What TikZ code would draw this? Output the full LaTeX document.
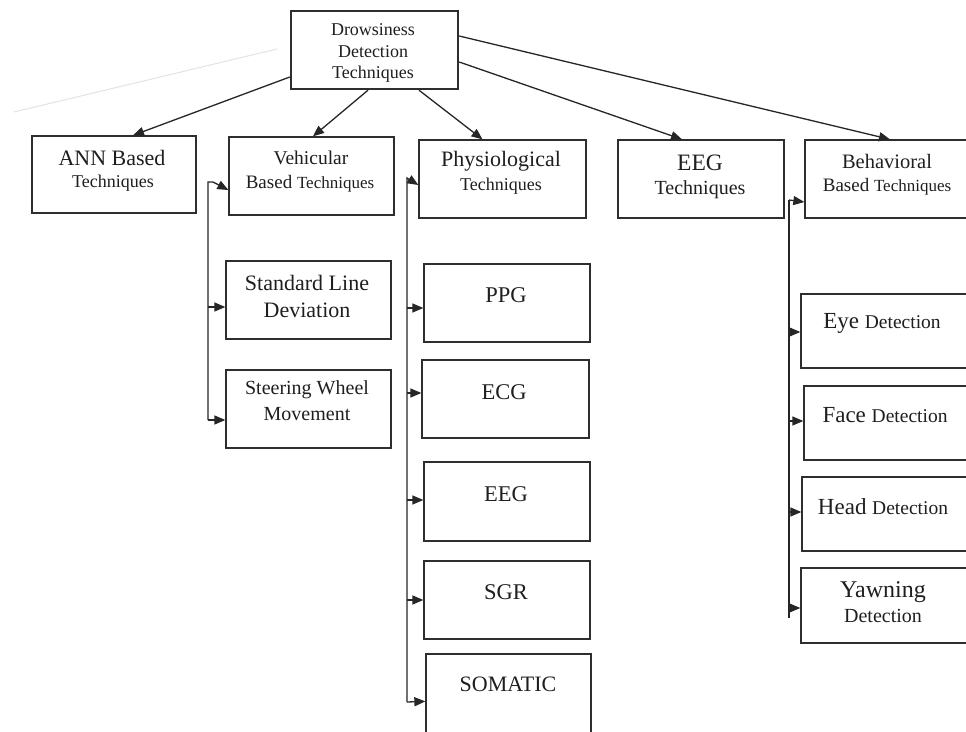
\documentclass[tikz,border=0pt]{standalone}
\usepackage{fontspec}
\setmainfont{Liberation Serif}
\usetikzlibrary{arrows.meta,calc}
\newcommand\fsz[1]{\fontsize{#1}{#1}\selectfont}
\begin{document}
\begin{tikzpicture}[x=1pt,y=-1pt,
  box/.style={draw=black!82,line width=1.3pt,inner sep=0pt},
  conn/.style={draw=black!85,line width=1.3pt},
  arr/.style={conn,-{Triangle[length=11pt,width=9pt]}},
  lbl/.style={text=black!88,inner sep=0pt,align=center}]
\useasboundingbox (0,0) rectangle (966,731);
\clip (0,0) rectangle (966,731);
\fill[white] (0,0) rectangle (966,731);
% faint artifact line
\draw[gray!22,line width=1pt] (14,112) -- (277,49);
% boxes
\node[box,line width=2.4pt,minimum width=167pt,minimum height=78pt] (dd) at (374.5,50) {};
\node[box,minimum width=164pt,minimum height=77pt] (ann) at (114,174.5) {};
\node[box,minimum width=165pt,minimum height=78pt] (veh) at (311.5,176) {};
\node[box,minimum width=167pt,minimum height=78pt] (phy) at (502.5,179) {};
\node[box,minimum width=166pt,minimum height=78pt] (eegt) at (701,179) {};
\node[box,minimum width=170pt,minimum height=78pt] (beh) at (890,179) {};
\node[box,minimum width=165pt,minimum height=78pt] (std) at (308.5,300) {};
\node[box,minimum width=165pt,minimum height=78pt] (ste) at (308.5,409) {};
\node[box,minimum width=166pt,minimum height=78pt] (ppg) at (507,303) {};
\node[box,minimum width=167pt,minimum height=78pt] (ecg) at (505.5,399) {};
\node[box,minimum width=166pt,minimum height=79pt] (eeg) at (507,501.5) {};
\node[box,minimum width=166pt,minimum height=78pt] (sgr) at (507,600) {};
\node[box,minimum width=165pt,minimum height=106pt] (som) at (508.5,707) {};
\node[box,minimum width=170pt,minimum height=74pt] (eye) at (886,331) {};
\node[box,minimum width=170pt,minimum height=74pt] (face) at (889,423) {};
\node[box,minimum width=170pt,minimum height=74pt] (head) at (887,514) {};
\node[box,minimum width=170pt,minimum height=75pt] (yawn) at (886,605.5) {};
% texts
\node[lbl,font=\fsz{18}] (t0a) at (373,30) {Drowsiness};
\node[lbl,font=\fsz{18}] (t0b) at (373,52) {Detection};
\node[lbl,font=\fsz{18}] (t0c) at (373,74) {Techniques};
\node[lbl,font=\fsz{22}] (t1a) at (112,158) {ANN Based};
\node[lbl,font=\fsz{18}] (t1b) at (113,183) {Techniques};
\node[lbl,font=\fsz{19.5}] (t2a) at (311,158) {Vehicular};
\node[lbl] (t2b) at (310,184) {\fsz{19}Based \fsz{17}Techniques};
\node[lbl,font=\fsz{22}] (t3a) at (501,161) {Physiological};
\node[lbl,font=\fsz{18}] (t3b) at (501,186) {Techniques};
\node[lbl,font=\fsz{23.5}] (t4a) at (700,163) {EEG};
\node[lbl,font=\fsz{20}] (t4b) at (700,190) {Techniques};
\node[lbl,font=\fsz{20.5}] (t5a) at (887,161) {Behavioral};
\node[lbl] (t5b) at (887,187) {\fsz{19}Based \fsz{17}Techniques};
\node[lbl,font=\fsz{22}] (t6a) at (307,283) {Standard Line};
\node[lbl,font=\fsz{22}] (t6b) at (307,310) {Deviation};
\node[lbl,font=\fsz{20}] (t7a) at (307,390) {Steering Wheel};
\node[lbl,font=\fsz{20}] (t7b) at (307,414) {Movement};
\node[lbl,font=\fsz{22.5}] (t8) at (506,295) {PPG};
\node[lbl,font=\fsz{22.5}] (t9) at (504,392) {ECG};
\node[lbl,font=\fsz{22.5}] (t10) at (506,494) {EEG};
\node[lbl,font=\fsz{22.5}] (t11) at (506,592) {SGR};
\node[lbl,font=\fsz{22}] (t12) at (508,684) {SOMATIC};
\node[lbl] (t13) at (882,323) {\fsz{23}Eye \fsz{19.5}Detection};
\node[lbl] (t14) at (885,415) {\fsz{23}Face \fsz{19.5}Detection};
\node[lbl] (t15) at (883,507) {\fsz{23}Head \fsz{19.5}Detection};
\node[lbl,font=\fsz{24}] (t16a) at (883,592) {Yawning};
\node[lbl,font=\fsz{20}] (t16b) at (883,616) {Detection};
% top arrows
\draw[arr] ([yshift=-27pt]dd.west) -- ([xshift=19pt]ann.north);
\draw[arr] ([xshift=-6.5pt]dd.south) -- ([xshift=1.5pt]veh.north);
\draw[arr] ([xshift=44.5pt]dd.south) -- ([xshift=-20pt]phy.north);
\draw[arr] ([yshift=-12pt]dd.east) -- ([xshift=-19pt]eegt.north);
\draw[arr] ([yshift=14pt]dd.east) -- (beh.north);
% vehicular bracket
\coordinate (vtop) at (208,182);
\coordinate (vbot) at (208,420);
\draw[arr] (vbot) -- (vtop) -- ++(5,0) -- ([yshift=-14pt]veh.west);
\draw[arr] ([yshift=-7pt]std.west -| vtop) -- ([yshift=-7pt]std.west);
\draw[arr] (vbot) -- ([yshift=-11pt]ste.west);
% physiological bracket
\coordinate (ptop) at (407,178);
\coordinate (pbot) at (407,702);
\draw[arr] (pbot) -- (ptop) -- ([yshift=-6pt]phy.west);
\draw[arr] ([yshift=-5pt]ppg.west -| ptop) -- ([yshift=-5pt]ppg.west);
\draw[arr] ([yshift=6pt]ecg.west -| ptop) -- ([yshift=6pt]ecg.west);
\draw[arr] ([yshift=1.5pt]eeg.west -| ptop) -- ([yshift=1.5pt]eeg.west);
\draw[arr] (sgr.west -| ptop) -- (sgr.west);
\draw[arr] (pbot) -- ([yshift=-48pt]som.north west);
% behavioral bracket
\coordinate (btop) at (789,200);
\coordinate (bbot) at (789,618);
\draw[conn] (bbot) -- (btop);
\draw[arr] (btop) -- ([yshift=-23pt]beh.west);
\draw[arr] ([yshift=-1pt]eye.west -| btop) -- ([yshift=-1pt]eye.west);
\draw[arr] ([yshift=2pt]face.west -| btop) -- ([yshift=2pt]face.west);
\draw[arr] ([yshift=2pt]head.west -| btop) -- ([yshift=2pt]head.west);
\draw[arr] ([yshift=-2.5pt]yawn.west -| btop) -- ([yshift=-2.5pt]yawn.west);
\end{tikzpicture}
\end{document}
